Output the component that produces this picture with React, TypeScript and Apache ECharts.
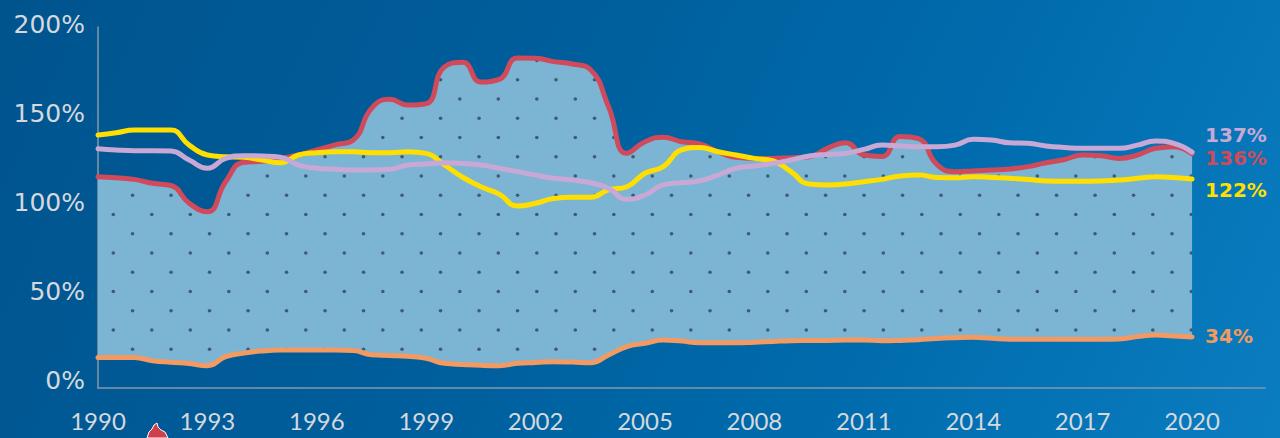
import React, { useEffect, useRef } from 'react';
import * as echarts from 'echarts';

// half-year periods; the axis runs on to 2022 so that it extends past the last data point
const periods = [
  '1990', '1990.5', '1991', '1991.5', '1992', '1992.5', '1993', '1993.5', '1994', '1994.5',
  '1995', '1995.5', '1996', '1996.5', '1997', '1997.5', '1998', '1998.5', '1999', '1999.5',
  '2000', '2000.5', '2001', '2001.5', '2002', '2002.5', '2003', '2003.5', '2004', '2004.5',
  '2005', '2005.5', '2006', '2006.5', '2007', '2007.5', '2008', '2008.5', '2009', '2009.5',
  '2010', '2010.5', '2011', '2011.5', '2012', '2012.5', '2013', '2013.5', '2014', '2014.5',
  '2015', '2015.5', '2016', '2016.5', '2017', '2017.5', '2018', '2018.5', '2019', '2019.5',
  '2020', '2020.5', '2021', '2021.5', '2022',
];

const redSeries = [
  123.3, 122.7, 121.8, 119.6, 118.4, 108.5, 103.8, 120.5, 131.4, 131.9,
  133.5, 135.4, 138.2, 141, 143.7, 161.4, 166.4, 163.2, 164, 184.5,
  187, 176, 177.5, 189.4, 189.3, 187.4, 186.1, 183, 162.3, 136.3,
  142.8, 145.3, 142.8, 141.6, 137.2, 134.1, 133.5, 133.5, 133.9, 134.4,
  139.1, 142.2, 135.4, 134.6, 145.7, 144.5, 130.2, 126.1, 126.5, 127,
  127.6, 128.9, 131.1, 132.9, 135.4, 135, 133.5, 135.4, 139.1, 140, 136,
];

const purpleSeries = [
  138.9, 138.2, 137.8, 137.8, 137.6, 132.6, 128, 133.5, 135, 134.8,
  134.1, 129.8, 128, 127.4, 127, 127, 127.4, 129.8, 130.4, 131.1,
  130.7, 129.8, 128, 126.1, 124.2, 122.4, 121.4, 119.9, 116.8, 110.7,
  113.1, 118.7, 119.9, 121, 124.2, 128, 129.2, 130.7, 132.6, 134.8,
  135.7, 136.3, 138.5, 140.9, 140.4, 140, 140, 140.9, 144.1, 143.7,
  142.2, 141.9, 140.4, 139.6, 139.1, 139.1, 139.1, 140.9, 143.2, 141.9, 137,
];

const yellowSeries = [
  146.5, 147.8, 149.3, 149.3, 149.3, 140.9, 135.4, 134.4, 134.1, 132.6,
  131.1, 135.4, 136.7, 137.2, 137.2, 136.7, 136.7, 137.2, 136.3, 129.8,
  123, 117.7, 113.6, 107, 108.5, 111.2, 111.8, 111.8, 115.9, 117.7,
  125.2, 128.9, 138.2, 139.6, 137.2, 135.4, 133.5, 132.2, 126.1, 119.2,
  118.7, 119.2, 120.5, 121.8, 123.7, 124.2, 122.9, 122.7, 123.3, 122.9,
  122.4, 121.8, 120.9, 120.7, 120.7, 120.9, 121.4, 122.4, 123.3, 122.9, 122,
];

const orangeSeries = [
  22.6, 22.6, 22.5, 20.8, 19.9, 19.2, 18, 23, 25, 26.2,
  26.7, 26.7, 26.7, 26.7, 26.4, 24.1, 23.7, 23.2, 22.1, 19.3,
  18.7, 18.2, 18, 19.3, 19.8, 20.2, 20, 19.7, 24, 28.6,
  30.5, 32.3, 31.7, 30.8, 30.8, 30.8, 31.1, 31.5, 31.9, 32,
  32.1, 32.3, 32.3, 31.9, 32.1, 32.5, 33.2, 33.6, 33.8, 33.3,
  32.8, 32.7, 32.7, 32.7, 32.7, 32.7, 32.9, 34.2, 35.1, 34.5, 34,
];

const endLabelTexts = { purple: '137%', red: '136%', yellow: '122%', orange: '34%' };
const yTickValues = [0, 50, 100, 150, 200];

const LABEL_GREY = '#d5d9de';
const AXIS_GREY = '#8498aa';

export default function App() {
  const ref = useRef<HTMLDivElement>(null);

  useEffect(() => {
    document.body.style.margin = '0';
    const chart = echarts.init(ref.current as HTMLDivElement, null, { renderer: 'svg' });

    // dotted fill pattern (staggered lattice)
    const size = 385;
    const cv = document.createElement('canvas');
    cv.width = size;
    cv.height = size;
    const ctx = cv.getContext('2d') as CanvasRenderingContext2D;
    ctx.fillStyle = '#7cb4d4';
    ctx.fillRect(0, 0, size, size);
    ctx.fillStyle = '#3f5b72';
    const step = 38.5;
    for (let i = 0; i < 10; i++) {
      for (let j = 0; j < 10; j++) {
        ctx.beginPath();
        ctx.arc(17.05 + i * step, 2.75 + j * step, 1.8, 0, Math.PI * 2);
        ctx.fill();
        ctx.beginPath();
        ctx.arc(36.3 + i * step, 22 + j * step, 1.8, 0, Math.PI * 2);
        ctx.fill();
      }
    }
    const dataUrl = cv.toDataURL();

    const band = redSeries.map((v, i) => +(v - orangeSeries[i]).toFixed(2));
    const SMOOTH = 0.5;

    const lineSeries = (
      name: string,
      data: number[],
      color: string,
      label: string,
      dy: number,
      z: number,
    ) => ({
      name,
      type: 'line',
      xAxisIndex: 0,
      yAxisIndex: 0,
      data,
      smooth: SMOOTH,
      symbol: 'none',
      z,
      lineStyle: { color, width: 5, cap: 'round', join: 'round' },
      endLabel: {
        show: true,
        formatter: () => label,
        color,
        fontSize: 20,
        fontWeight: 'bold',
        fontFamily: 'DejaVu Sans',
        distance: 13,
        offset: [0, dy],
      },
    });

    const option: any = {
      animation: false,
      backgroundColor: 'transparent',
      grid: [
        { left: 98, right: 15, top: 27, bottom: 50 },
        { left: 98, right: 15, top: 24, bottom: 58 },
      ],
      xAxis: [
        {
          type: 'category',
          gridIndex: 0,
          data: periods,
          boundaryGap: false,
          axisLine: { show: true, lineStyle: { color: AXIS_GREY, width: 1.5 } },
          axisTick: { show: false },
          splitLine: { show: false },
          axisLabel: {
            interval: 5,
            color: LABEL_GREY,
            fontSize: 24,
            fontFamily: 'Lato',
            margin: 20,
          },
        },
        {
          type: 'category',
          gridIndex: 1,
          data: periods,
          boundaryGap: false,
          show: false,
        },
      ],
      yAxis: [
        {
          type: 'value',
          gridIndex: 0,
          min: 5.57,
          max: 206.7,
          axisLine: { show: true, lineStyle: { color: AXIS_GREY, width: 1.5 } },
          axisTick: { show: false },
          axisLabel: { show: false },
          splitLine: { show: false },
        },
        {
          type: 'value',
          gridIndex: 1,
          min: yTickValues[0],
          max: yTickValues[yTickValues.length - 1],
          interval: 50,
          axisLine: { show: false },
          axisTick: { show: false },
          splitLine: { show: false },
          axisLabel: {
            color: LABEL_GREY,
            fontSize: 25,
            fontFamily: 'DejaVu Sans',
            margin: 13,
            formatter: '{value}%',
          },
        },
      ],
      series: [
        {
          name: 'base',
          type: 'line',
          xAxisIndex: 0,
          yAxisIndex: 0,
          stack: 'band',
          data: orangeSeries,
          smooth: SMOOTH,
          symbol: 'none',
          lineStyle: { opacity: 0 },
          silent: true,
          z: 1,
        },
        {
          name: 'band',
          type: 'line',
          xAxisIndex: 0,
          yAxisIndex: 0,
          stack: 'band',
          data: band,
          smooth: SMOOTH,
          symbol: 'none',
          lineStyle: { opacity: 0 },
          areaStyle: {
            opacity: 1,
            color: { image: dataUrl, repeat: 'repeat', imageWidth: size, imageHeight: size },
          },
          silent: true,
          z: 1,
        },
        lineSeries('orange', orangeSeries, '#f39a62', endLabelTexts.orange, -1, 3),
        lineSeries('red', redSeries, '#d04a5b', endLabelTexts.red, 4, 4),
        lineSeries('yellow', yellowSeries, '#ffdf00', endLabelTexts.yellow, 11, 5),
        lineSeries('purple', purpleSeries, '#c8a8d4', endLabelTexts.purple, -17, 6),
      ],
      graphic: [
        {
          type: 'polygon',
          shape: {
            points: [
              [147, 438], [149, 432], [152, 429], [154, 425], [157, 423],
              [158, 427], [161, 430], [165, 432], [168, 438],
            ],
          },
          style: { fill: '#cf404f', stroke: '#ffffff', lineWidth: 1 },
          z: 10,
        },
      ],
    };

    chart.setOption(option);
    return () => chart.dispose();
  }, []);

  return (
    <div
      ref={ref}
      style={{
        position: 'fixed',
        left: 0,
        top: 0,
        width: 1280,
        height: 438,
        background:
          'linear-gradient(115deg, #00548e 0%, #005e9c 40%, #006cad 70%, #0a7dc0 100%)',
      }}
    />
  );
}
